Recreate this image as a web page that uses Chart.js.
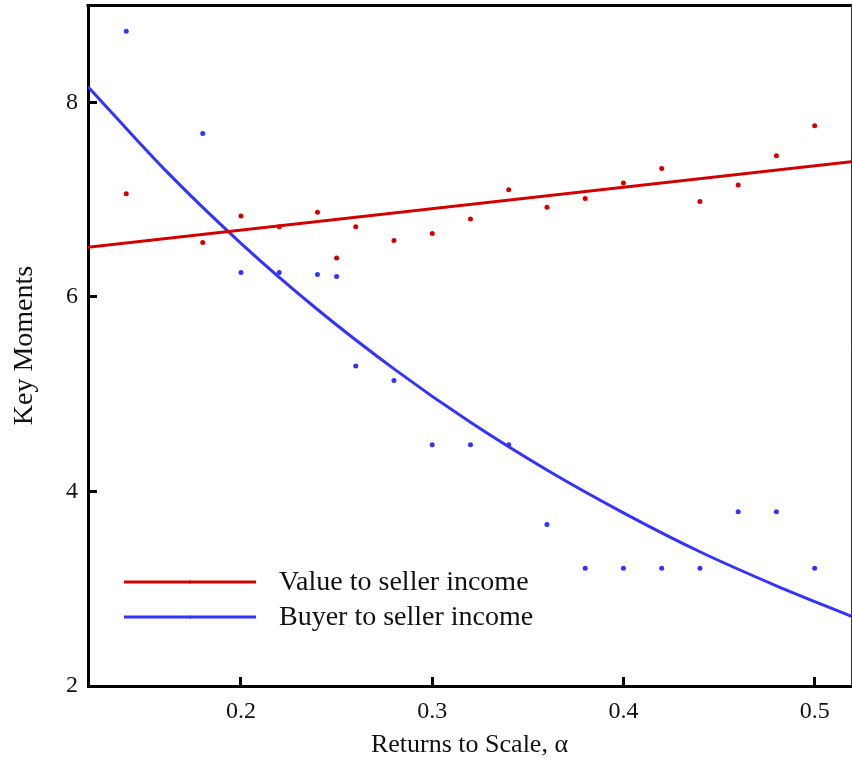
<!DOCTYPE html>
<html>
<head>
<meta charset="utf-8">
<script src="https://cdn.jsdelivr.net/npm/chart.js@4.4.0/dist/chart.umd.min.js"></script>
<style>
  html, body { margin: 0; padding: 0; background: #fff; }
</style>
</head>
<body>
<canvas id="moments" width="852" height="762"></canvas>
<script>
// simulated moments, one value per alpha
var alphaPoints = [0.14, 0.18, 0.20, 0.22, 0.24, 0.25, 0.26, 0.28, 0.30, 0.32, 0.34, 0.36, 0.38, 0.40, 0.42, 0.44, 0.46, 0.48, 0.50];
var valueToSeller = [7.06, 6.56, 6.83, 6.72, 6.87, 6.40, 6.72, 6.58, 6.65, 6.80, 7.10, 6.92, 7.01, 7.17, 7.32, 6.98, 7.15, 7.45, 7.76];
var buyerToSeller = [8.73, 7.68, 6.25, 6.25, 6.23, 6.21, 5.29, 5.14, 4.48, 4.48, 4.48, 3.66, 3.21, 3.21, 3.21, 3.21, 3.79, 3.79, 3.21];

// fitted curves
var valueFitX = [0.12, 0.52];
var valueFitY = [6.51, 7.39];
var buyerFitX = [0.12, 0.16, 0.20, 0.24, 0.28, 0.32, 0.36, 0.40, 0.44, 0.48, 0.52];
var buyerFitY = [8.16, 7.31, 6.55, 5.87, 5.26, 4.71, 4.22, 3.78, 3.38, 3.03, 2.71];

var seriesNames = ['Value to seller income', 'Buyer to seller income'];
var xTicks = [0.2, 0.3, 0.4, 0.5];
var yTicks = [2, 4, 6, 8];

var RED = '#d40000';
var BLUE = '#3333ff';
var SERIF = "'Liberation Serif', 'DejaVu Serif', serif";

function toPoints(xs, ys) {
  return xs.map(function(x, i) { return {x: x, y: ys[i]}; });
}

// top / right frame lines and the legend in the lower left corner
var frameAndLegend = {
  id: 'frameAndLegend',
  afterDraw: function(chart) {
    var ctx = chart.ctx, a = chart.chartArea;
    ctx.save();
    ctx.strokeStyle = '#000';
    ctx.lineWidth = 3;
    ctx.beginPath();
    ctx.moveTo(a.left - 1.5, a.top + 0.5);
    ctx.lineTo(a.right + 1, a.top + 0.5);
    ctx.stroke();
    ctx.strokeStyle = '#333';
    ctx.lineWidth = 1;
    ctx.beginPath();
    ctx.moveTo(a.right + 0.5, a.top);
    ctx.lineTo(a.right + 0.5, a.bottom);
    ctx.stroke();

    var colors = [RED, BLUE];
    ctx.font = '28px ' + SERIF;
    ctx.textBaseline = 'middle';
    ctx.textAlign = 'left';
    seriesNames.forEach(function(name, i) {
      var y = 582 + i * 35;
      ctx.strokeStyle = colors[i];
      ctx.lineWidth = 3;
      ctx.beginPath();
      ctx.moveTo(124, y);
      ctx.lineTo(256, y);
      ctx.stroke();
      ctx.fillStyle = colors[i];
      ctx.beginPath();
      ctx.arc(190, y, 1.6, 0, Math.PI * 2);
      ctx.fill();
      ctx.fillStyle = '#111';
      ctx.fillText(name, 279, y + 1);
    });
    ctx.restore();
  }
};

var chart = new Chart('moments', {
  type: 'scatter',
  data: {
    datasets: [
      {
        label: seriesNames[0] + ' (fit)',
        type: 'line',
        data: toPoints(valueFitX, valueFitY),
        borderColor: RED,
        borderWidth: 3,
        pointRadius: 0,
        fill: false,
        clip: 0
      },
      {
        label: seriesNames[1] + ' (fit)',
        type: 'line',
        data: toPoints(buyerFitX, buyerFitY),
        borderColor: BLUE,
        borderWidth: 3,
        pointRadius: 0,
        cubicInterpolationMode: 'monotone',
        fill: false,
        clip: 0
      },
      {
        label: seriesNames[0],
        data: toPoints(alphaPoints, valueToSeller),
        backgroundColor: RED,
        pointRadius: 2.5,
        borderWidth: 0
      },
      {
        label: seriesNames[1],
        data: toPoints(alphaPoints, buyerToSeller),
        backgroundColor: BLUE,
        pointRadius: 2.5,
        borderWidth: 0
      }
    ]
  },
  options: {
    responsive: false,
    animation: false,
    devicePixelRatio: 1,
    layout: { autoPadding: false, padding: { top: 5, right: 1, left: 0, bottom: 0 } },
    plugins: {
      legend: { display: false },
      tooltip: { enabled: false }
    },
    scales: {
      x: {
        type: 'linear',
        position: 'bottom',
        min: 0.12,
        max: 0.519,
        afterBuildTicks: function(s) { s.ticks = xTicks.map(function(v) { return {value: v}; }); },
        afterFit: function(s) {
          s.height = 76;
          s.paddingLeft = 0; s.paddingRight = 0; s.paddingTop = 0; s.paddingBottom = 0;
        },
        grid: { drawOnChartArea: false, drawTicks: true, tickLength: -9, tickWidth: 3, tickColor: '#000', lineWidth: 3 },
        border: { color: '#000', width: 3 },
        ticks: {
          font: { family: SERIF, size: 24 },
          color: '#111',
          padding: 20,
          maxRotation: 0,
          callback: function(v) { return v.toFixed(1); }
        },
        title: {
          display: true,
          text: 'Returns to Scale, \u03b1',
          font: { family: SERIF, size: 26 },
          color: '#111',
          padding: { top: 0, bottom: 1 }
        }
      },
      y: {
        type: 'linear',
        min: 2,
        max: 9,
        afterBuildTicks: function(s) { s.ticks = yTicks.map(function(v) { return {value: v}; }); },
        afterFit: function(s) {
          s.width = 88;
          s.paddingLeft = 0; s.paddingRight = 0; s.paddingTop = 0; s.paddingBottom = 0;
        },
        grid: { drawOnChartArea: false, drawTicks: true, tickLength: -9, tickWidth: 3, tickColor: '#000', lineWidth: 3 },
        border: { color: '#000', width: 3 },
        ticks: {
          font: { family: SERIF, size: 24 },
          color: '#111',
          padding: 19
        },
        title: {
          display: true,
          text: 'Key Moments',
          font: { family: SERIF, size: 28 },
          color: '#111',
          padding: { top: 8, bottom: 0 }
        }
      }
    }
  },
  plugins: [frameAndLegend]
});
</script>
</body>
</html>
